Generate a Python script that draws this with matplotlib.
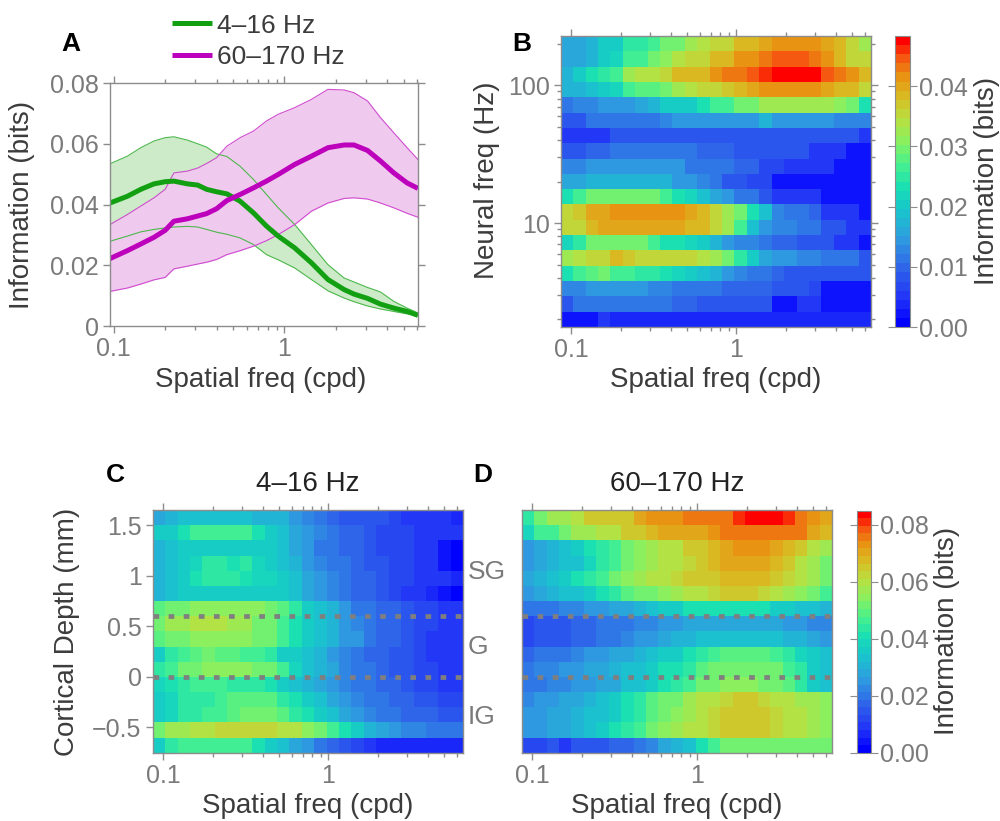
import numpy as np
import matplotlib
matplotlib.use("Agg")
import matplotlib.pyplot as plt
from matplotlib.colors import LinearSegmentedColormap, Normalize
from matplotlib.ticker import FixedLocator, NullFormatter, FixedFormatter

plt.rcParams['font.family'] = ['Liberation Sans', 'DejaVu Sans']

# ---- panel A: information vs spatial freq (bits) ----
sf_line = [0.095, 0.12, 0.144, 0.172, 0.2, 0.225, 0.27, 0.31, 0.35, 0.4, 0.46, 0.55, 0.66,
           0.785, 0.92, 1.15, 1.44, 1.8, 2.24, 2.56, 3.07, 3.66, 4.38, 5.24, 6.07]
low_mean = [0.0405, 0.0427, 0.045, 0.0468, 0.0475, 0.0477, 0.0468, 0.0464, 0.045, 0.0442, 0.0435,
            0.0411, 0.0372, 0.0329, 0.0296, 0.0257, 0.0208, 0.0153, 0.012, 0.0105, 0.0091,
            0.0072, 0.0059, 0.0048, 0.0035]
low_hi = [0.0534, 0.0559, 0.0587, 0.0609, 0.062, 0.0623, 0.0612, 0.06, 0.0589, 0.0567, 0.0558,
          0.0526, 0.0482, 0.0433, 0.0389, 0.0334, 0.0268, 0.0202, 0.0158, 0.0145, 0.0127,
          0.0112, 0.0081, 0.0059, 0.0043]
low_lo = [0.0279, 0.0296, 0.031, 0.0318, 0.0323, 0.0326, 0.0328, 0.0326, 0.0318, 0.0309, 0.0302,
          0.029, 0.0268, 0.0235, 0.0218, 0.0191, 0.0153, 0.0116, 0.0092, 0.008, 0.0066,
          0.0056, 0.0048, 0.004, 0.0035]
high_mean = [0.0222, 0.0248, 0.027, 0.0292, 0.0315, 0.0345, 0.0353, 0.0362, 0.037, 0.0386, 0.0413,
             0.0433, 0.0455, 0.0477, 0.0499, 0.0532, 0.0559, 0.0587, 0.0596, 0.0596, 0.0578,
             0.0543, 0.0504, 0.0471, 0.0453]
high_hi = [0.0334, 0.0367, 0.0395, 0.0422, 0.045, 0.0504, 0.051, 0.052, 0.0535, 0.0554, 0.0592,
           0.062, 0.0642, 0.0675, 0.0697, 0.0719, 0.0746, 0.0779, 0.0777, 0.0768, 0.0741,
           0.0686, 0.0636, 0.0587, 0.0548]
high_lo = [0.0114, 0.0125, 0.0138, 0.0152, 0.016, 0.0188, 0.0197, 0.0204, 0.021, 0.0219, 0.0235,
           0.0248, 0.0263, 0.0281, 0.0301, 0.0334, 0.0378, 0.0405, 0.042, 0.0422, 0.0418,
           0.0405, 0.0389, 0.0371, 0.0358]

# ---- heatmap grids ----
sf_cells = np.geomspace(0.0943, 6.01, 25)        # spatial freq (cpd)
nf_cells = np.geomspace(2, 200, 19)              # neural freq (Hz)
depth_cells = np.arange(-0.675, 1.6, 0.15)       # cortical depth (mm)

# panel B, information in mbits, rows top (200 Hz) to bottom (2 Hz)
info_B = [
    [16, 16, 18, 21, 21, 25, 25, 27, 29, 30, 33, 34, 35, 36, 38, 38, 40, 42, 42, 42, 41, 40, 38, 36, 33],
    [16, 16, 18, 21, 22, 27, 27, 30, 31, 34, 36, 36, 38, 38, 41, 42, 43, 44, 44, 44, 43, 42, 39, 36, 36],
    [18, 21, 23, 25, 27, 33, 34, 34, 35, 38, 38, 39, 41, 43, 43, 45, 46, 48, 48, 48, 48, 45, 43, 41, 38],
    [17, 18, 19, 21, 22, 27, 28, 28, 30, 33, 34, 35, 36, 37, 38, 40, 41, 41, 41, 41, 41, 40, 39, 38, 36],
    [12, 13, 13, 14, 15, 15, 16, 18, 21, 21, 21, 24, 27, 27, 29, 30, 32, 33, 33, 33, 33, 33, 31, 29, 24],
    [9, 9, 11, 11, 11, 11, 11, 12, 13, 14, 14, 14, 14, 14, 15, 15, 17, 15, 15, 15, 15, 14, 13, 13, 13],
    [5, 5, 5, 5, 8, 8, 8, 8, 8, 9, 9, 9, 9, 9, 9, 9, 9, 9, 9, 9, 9, 9, 8, 8, 6],
    [8, 8, 10, 10, 11, 11, 11, 11, 11, 11, 11, 10, 10, 10, 9, 9, 8, 8, 8, 8, 6, 6, 6, 3, 3],
    [13, 13, 14, 14, 14, 14, 14, 14, 14, 14, 12, 12, 12, 12, 10, 10, 7, 7, 5, 5, 5, 5, 2, 2, 2],
    [16, 16, 18, 18, 17, 17, 17, 17, 17, 15, 15, 13, 12, 9, 9, 7, 7, 2, 2, 2, 2, 2, 2, 2, 2],
    [23, 26, 29, 29, 30, 30, 30, 30, 27, 24, 22, 19, 16, 14, 12, 11, 8, 6, 6, 6, 6, 3, 3, 2, 2],
    [36, 37, 40, 40, 41, 41, 41, 41, 41, 41, 40, 38, 36, 33, 29, 24, 19, 13, 12, 12, 10, 6, 6, 6, 2],
    [35, 36, 38, 40, 40, 40, 40, 40, 40, 40, 38, 38, 35, 33, 27, 19, 14, 13, 13, 11, 11, 8, 8, 6, 6],
    [22, 25, 29, 29, 29, 29, 29, 26, 24, 24, 22, 21, 18, 15, 13, 13, 11, 10, 10, 8, 8, 8, 6, 6, 2],
    [33, 34, 36, 36, 38, 37, 36, 36, 36, 36, 35, 34, 32, 29, 25, 21, 16, 14, 14, 13, 13, 12, 11, 11, 8],
    [23, 26, 28, 29, 26, 26, 25, 25, 24, 22, 21, 19, 17, 15, 13, 12, 11, 10, 9, 8, 8, 8, 8, 8, 8],
    [13, 13, 14, 14, 14, 14, 14, 13, 13, 12, 12, 12, 12, 10, 10, 10, 10, 8, 8, 8, 7, 3, 3, 3, 3],
    [9, 11, 11, 11, 11, 11, 11, 11, 11, 10, 10, 9, 9, 8, 8, 8, 8, 3, 3, 6, 6, 2, 2, 2, 2],
    [3, 3, 3, 6, 4, 4, 4, 4, 4, 4, 4, 4, 4, 4, 4, 4, 4, 4, 4, 4, 4, 4, 4, 4, 4],
]

# panel C (4-16 Hz), mbits, rows top (1.575 mm) to bottom (-0.675 mm)
info_C = [
    [28, 31, 34, 34, 34, 34, 34, 34, 31, 31, 30, 24, 22, 19, 18, 15, 14, 14, 14, 11, 10, 10, 8, 8, 7],
    [36, 36, 40, 46, 46, 46, 46, 46, 41, 37, 32, 29, 26, 22, 21, 17, 17, 14, 13, 13, 11, 10, 10, 8, 8],
    [31, 34, 37, 37, 37, 37, 37, 37, 37, 35, 32, 28, 25, 21, 20, 17, 17, 14, 13, 11, 11, 8, 8, 5, 2],
    [31, 34, 37, 39, 44, 44, 40, 44, 38, 37, 34, 30, 26, 22, 21, 19, 16, 15, 14, 12, 12, 10, 8, 5, 2],
    [31, 34, 37, 41, 45, 43, 43, 41, 39, 38, 36, 32, 28, 24, 22, 20, 17, 16, 14, 13, 12, 10, 8, 8, 7],
    [31, 34, 37, 37, 37, 37, 37, 37, 37, 36, 35, 33, 28, 25, 23, 20, 18, 16, 14, 13, 10, 9, 7, 5, 2],
    [48, 51, 53, 54, 54, 54, 54, 54, 54, 51, 48, 43, 37, 32, 30, 25, 21, 20, 17, 16, 14, 13, 12, 10, 10],
    [53, 56, 58, 60, 61, 61, 58, 57, 53, 51, 47, 41, 37, 34, 30, 26, 22, 20, 18, 16, 14, 13, 12, 10, 8],
    [48, 51, 53, 54, 54, 54, 54, 54, 53, 51, 47, 41, 37, 34, 31, 26, 24, 20, 17, 16, 14, 13, 10, 8, 8],
    [37, 43, 47, 48, 51, 49, 48, 47, 46, 43, 37, 36, 34, 30, 26, 22, 20, 17, 16, 14, 14, 13, 10, 8, 8],
    [43, 47, 51, 53, 55, 55, 55, 55, 53, 51, 46, 39, 34, 31, 27, 23, 21, 19, 17, 14, 14, 13, 11, 9, 8],
    [38, 41, 44, 47, 47, 47, 44, 44, 43, 41, 37, 34, 31, 28, 25, 23, 20, 19, 17, 16, 14, 13, 12, 10, 10],
    [37, 39, 43, 44, 44, 47, 48, 48, 48, 48, 44, 41, 37, 34, 29, 26, 23, 20, 19, 17, 16, 14, 14, 13, 12],
    [37, 39, 43, 45, 46, 47, 49, 51, 51, 51, 48, 44, 41, 37, 32, 28, 25, 22, 20, 19, 18, 17, 16, 15, 14],
    [53, 56, 58, 60, 61, 63, 63, 63, 63, 63, 60, 60, 55, 53, 47, 41, 37, 31, 27, 25, 23, 22, 21, 20, 19],
    [37, 43, 46, 46, 46, 46, 46, 46, 41, 37, 34, 28, 24, 20, 16, 15, 13, 10, 7, 7, 7, 7, 7, 7, 7],
]

# panel D (60-170 Hz), mbits, same rows
info_D = [
    [45, 53, 57, 58, 61, 65, 65, 65, 66, 71, 72, 73, 73, 75, 75, 76, 77, 80, 85, 85, 85, 81, 77, 73, 71],
    [39, 46, 47, 51, 56, 58, 60, 60, 64, 66, 68, 70, 70, 71, 71, 73, 75, 77, 77, 77, 77, 77, 75, 71, 68],
    [25, 27, 30, 32, 37, 41, 43, 46, 51, 54, 58, 60, 61, 64, 66, 68, 71, 72, 72, 72, 70, 67, 64, 60, 58],
    [25, 28, 30, 32, 34, 38, 43, 47, 51, 54, 58, 60, 61, 63, 66, 68, 70, 71, 71, 71, 67, 64, 61, 58, 53],
    [27, 30, 32, 36, 40, 45, 47, 51, 54, 58, 60, 61, 63, 64, 65, 66, 68, 68, 68, 68, 65, 63, 60, 56, 51],
    [26, 28, 30, 32, 34, 37, 41, 45, 48, 51, 53, 54, 57, 60, 61, 63, 64, 64, 64, 63, 61, 58, 54, 51, 46],
    [19, 20, 20, 22, 23, 25, 26, 27, 28, 31, 32, 36, 37, 40, 41, 41, 41, 41, 41, 40, 37, 36, 34, 32, 30],
    [13, 14, 14, 14, 17, 18, 19, 20, 20, 22, 23, 25, 26, 27, 28, 28, 29, 29, 29, 28, 27, 26, 25, 23, 22],
    [13, 14, 14, 14, 17, 17, 20, 20, 22, 24, 25, 27, 31, 31, 33, 34, 34, 34, 34, 34, 33, 31, 30, 28, 26],
    [17, 20, 21, 21, 22, 25, 26, 27, 29, 31, 33, 36, 37, 41, 44, 47, 49, 49, 49, 49, 47, 43, 38, 36, 32],
    [20, 22, 23, 25, 26, 27, 28, 30, 32, 34, 37, 40, 41, 45, 48, 51, 53, 53, 53, 53, 51, 47, 43, 37, 34],
    [20, 21, 22, 23, 25, 26, 27, 29, 32, 34, 37, 40, 43, 47, 51, 53, 54, 54, 54, 53, 51, 48, 43, 37, 34],
    [23, 25, 26, 27, 29, 31, 32, 36, 40, 44, 48, 51, 53, 56, 60, 61, 63, 64, 64, 63, 61, 60, 58, 56, 54],
    [25, 26, 27, 28, 30, 32, 34, 37, 41, 45, 48, 51, 54, 58, 60, 62, 64, 65, 65, 64, 62, 61, 60, 58, 54],
    [25, 26, 27, 29, 31, 34, 36, 40, 44, 47, 51, 54, 57, 60, 61, 63, 65, 65, 65, 65, 63, 61, 60, 57, 54],
    [13, 13, 14, 10, 14, 14, 14, 17, 18, 20, 23, 27, 30, 34, 40, 46, 51, 53, 53, 53, 51, 51, 53, 53, 53],
]

layer_bounds = [0.6, 0.0]
layer_names = ["SG", "G", "IG"]
layer_label_y = [1.04, 0.295, -0.40]


def edges_log(c):
    lc = np.log10(c)
    d = np.diff(lc)
    mid = (lc[:-1] + lc[1:]) / 2
    return 10 ** np.concatenate([[lc[0] - d[0] / 2], mid, [lc[-1] + d[-1] / 2]])


def edges_lin(c):
    d = c[1] - c[0]
    return np.concatenate([c - d / 2, [c[-1] + d / 2]])


cmap = LinearSegmentedColormap.from_list("infojet", [
    (0.00, "#0000ff"), (0.08, "#2030f8"), (0.20, "#3068e8"), (0.30, "#2e9ee0"),
    (0.40, "#18c6cc"), (0.48, "#18dfb4"), (0.56, "#48f08e"), (0.64, "#88f060"),
    (0.72, "#b8e040"), (0.80, "#d8bc22"), (0.87, "#e89412"), (0.93, "#f46012"),
    (1.00, "#ff0000")]).resampled(32)

SPINE = "#8c8c8c"
TICKLAB = "#7a7a7a"
LAB = "#3c3c3c"


def style(ax, left=True, right=True):
    for s in ax.spines.values():
        s.set_color(SPINE)
        s.set_linewidth(1.0)
    ax.tick_params(which="both", direction="out", color=SPINE, labelcolor=TICKLAB,
                   labelsize=18, top=True, right=right, left=left, width=1.0)
    ax.tick_params(which="major", length=5, pad=3)
    ax.tick_params(which="minor", length=3)


def sf_axis(ax):
    ax.set_xscale("log")
    ax.xaxis.set_major_locator(FixedLocator([0.1, 1]))
    ax.xaxis.set_major_formatter(FixedFormatter(["0.1", "1"]))
    ax.xaxis.set_minor_locator(FixedLocator([0.2, 0.3, 0.4, 0.5, 0.6, 0.7, 0.8, 0.9,
                                             2, 3, 4, 5, 6]))
    ax.xaxis.set_minor_formatter(NullFormatter())
    ax.set_xlabel("Spatial freq (cpd)", fontsize=20, color=LAB)


fig = plt.figure(figsize=(10, 8.21), dpi=100)

# ---------------- A ----------------
axA = fig.add_axes([0.110, 0.6029, 0.308, 0.296])
green, magenta = "#12a012", "#bc00bc"
axA.fill_between(sf_line, low_lo, low_hi, color="#cdebc8", lw=0)
axA.fill_between(sf_line, high_lo, high_hi, color="#f0caee", lw=0)
for ys in (low_lo, low_hi):
    axA.plot(sf_line, ys, color="#4cb84c", lw=0.8)
for ys in (high_lo, high_hi):
    axA.plot(sf_line, ys, color="#d04cd0", lw=0.8)
lg, = axA.plot(sf_line, low_mean, color=green, lw=3.6, solid_capstyle="butt")
lm, = axA.plot(sf_line, high_mean, color=magenta, lw=3.6, solid_capstyle="butt")
sf_axis(axA)
axA.set_xlim(0.095, 6.07)
axA.set_ylim(0, 0.08)
axA.set_yticks([0, 0.02, 0.04, 0.06, 0.08])
axA.set_yticklabels(["0", "0.02", "0.04", "0.06", "0.08"])
axA.set_ylabel("Information (bits)", fontsize=20, color=LAB)
style(axA)
axA.yaxis.set_label_coords(-0.2435, 0.5)
axA.xaxis.set_label_coords(0.49, -0.169)
fig.legend([lg, lm], ["4\u201316 Hz", "60\u2013170 Hz"], loc="center left",
           bbox_to_anchor=(0.172, 0.9495), frameon=False, fontsize=19,
           handlelength=1.5, handletextpad=0.2, labelspacing=0.3, labelcolor=LAB,
           borderaxespad=0, borderpad=0)

# ---------------- B ----------------
axB = fig.add_axes([0.5607, 0.6017, 0.3103, 0.3544])
normB = Normalize(0, 0.0483)
meshB = axB.pcolormesh(edges_log(sf_cells), edges_log(nf_cells),
                       np.array(info_B[::-1]) / 1000.0, cmap=cmap, norm=normB)
sf_axis(axB)
axB.set_yscale("log")
axB.yaxis.set_major_locator(FixedLocator([10, 100]))
axB.yaxis.set_major_formatter(FixedFormatter(["10", "100"]))
axB.yaxis.set_minor_locator(FixedLocator([2, 3, 4, 5, 6, 7, 8, 9, 20, 30, 40, 50, 60, 70,
                                          80, 90, 200]))
axB.yaxis.set_minor_formatter(NullFormatter())
axB.set_ylabel("Neural freq (Hz)", fontsize=20, color=LAB)
style(axB)
axB.yaxis.set_label_coords(-0.196, 0.505)
axB.xaxis.set_label_coords(0.5, -0.137)

caxB = fig.add_axes([0.895, 0.6017, 0.015, 0.3544])
cbB = fig.colorbar(meshB, cax=caxB)
cbB.set_ticks([0, 0.01, 0.02, 0.03, 0.04])
cbB.set_ticklabels(["0.00", "0.01", "0.02", "0.03", "0.04"])
cbB.outline.set_edgecolor(SPINE)
caxB.tick_params(direction="out", left=True, right=True, color=SPINE,
                 labelcolor=TICKLAB, labelsize=18, length=5, pad=1.5)
cbB.set_label("Information (bits)", fontsize=20, color=LAB)
caxB.yaxis.set_label_coords(5.25, 0.502)

# ---------------- C & D ----------------
normD = Normalize(0, 0.085)
for name, data, pos, title in [("C", info_C, 0.1527, "4\u201316 Hz"),
                               ("D", info_D, 0.5217, "60\u2013170 Hz")]:
    ax = fig.add_axes([pos, 0.0832, 0.3106, 0.2956])
    mesh = ax.pcolormesh(edges_log(sf_cells), edges_lin(depth_cells),
                         np.array(data[::-1]) / 1000.0, cmap=cmap, norm=normD)
    for yb in layer_bounds:
        ax.axhline(yb, color="#7f7f7f", lw=3.4, linestyle=(0, (1.2, 2.0)),
                   dash_capstyle="butt")
    sf_axis(ax)
    ax.set_ylim(-0.75, 1.65)
    if name == "C":
        ax.set_yticks([-0.5, 0, 0.5, 1, 1.5])
        ax.set_yticklabels(["\u22120.5", "0", "0.5", "1", "1.5"])
        ax.set_ylabel("Cortical Depth (mm)", fontsize=20, color=LAB)
        style(ax, left=True, right=False)
        ax.yaxis.set_label_coords(-0.234, 0.497)
        for lab, yl in zip(layer_names, layer_label_y):
            ax.text(1.015, yl, lab, transform=ax.get_yaxis_transform(), fontsize=19,
                    color="#7a7a7a", va="center", ha="left")
    else:
        ax.set_yticks([])
        style(ax, left=False, right=False)
        meshD = mesh
    ax.xaxis.set_label_coords(0.498, -0.166)
    ax.set_title(title, fontsize=20, color="#222222", pad=14)

caxD = fig.add_axes([0.8567, 0.0832, 0.014, 0.2948])
cbD = fig.colorbar(meshD, cax=caxD)
cbD.set_ticks([0, 0.02, 0.04, 0.06, 0.08])
cbD.set_ticklabels(["0.00", "0.02", "0.04", "0.06", "0.08"])
cbD.outline.set_edgecolor(SPINE)
caxD.tick_params(direction="out", left=True, right=True, color=SPINE,
                 labelcolor=TICKLAB, labelsize=18, length=5, pad=1.5)
cbD.set_label("Information (bits)", fontsize=20, color=LAB)
caxD.yaxis.set_label_coords(5.55, 0.503)

# panel letters
for lab, (x, y) in zip("ABCD", [(71, 44), (522, 44), (115, 475), (483, 475)]):
    fig.text(x / 1000, 1 - y / 821, lab, fontsize=19, fontweight="bold",
             ha="center", va="center", color="black")

fig.savefig("out.png", dpi=100)
